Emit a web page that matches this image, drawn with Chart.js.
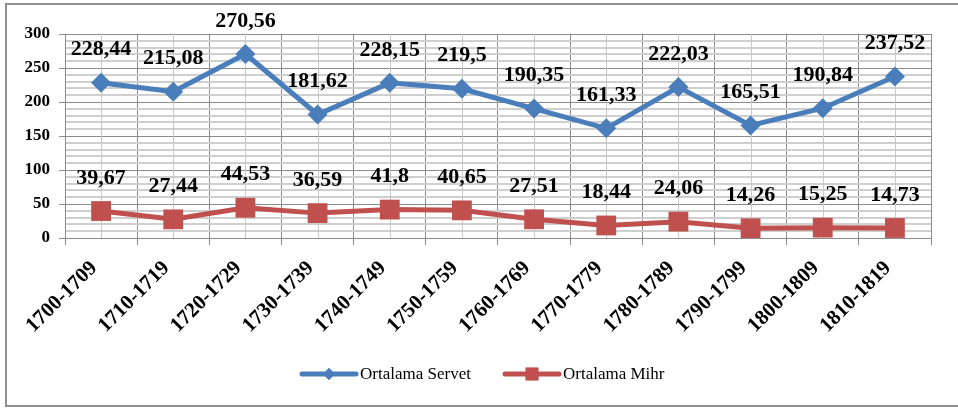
<!DOCTYPE html>
<html>
<head>
<meta charset="utf-8">
<script src="https://cdn.jsdelivr.net/npm/chart.js@4/dist/chart.umd.min.js"></script>
<style>
html,body{margin:0;padding:0;background:#fff;}
#c{display:block;}
</style>
</head>
<body>
<canvas id="c" width="958" height="408"></canvas>
<script>
const categories = ["1700-1709","1710-1719","1720-1729","1730-1739","1740-1749","1750-1759","1760-1769","1770-1779","1780-1789","1790-1799","1800-1809","1810-1819"];
const servet = [228.44, 215.08, 270.56, 181.62, 228.15, 219.5, 190.35, 161.33, 222.03, 165.51, 190.84, 237.52];
const mihr = [39.67, 27.44, 44.53, 36.59, 41.8, 40.65, 27.51, 18.44, 24.06, 14.26, 15.25, 14.73];
const seriesNames = ["Ortalama Servet", "Ortalama Mihr"];
const yMin = 0, yMax = 300, yMajor = 50, yMinor = 10;

const BLUE = '#4a7ebb';
const RED = '#c0504d';
const SERIF = "'Liberation Serif', Tinos, 'Times New Roman', 'DejaVu Serif', 'Noto Serif', serif";

const fmt = v => String(v).replace('.', ',');

const bgPlugin = {
  id: 'bg',
  beforeDraw(chart) {
    const ctx = chart.ctx;
    ctx.save();
    ctx.fillStyle = '#fff';
    ctx.fillRect(0, 0, chart.width, chart.height);
    ctx.restore();
  }
};

const minorXGrid = {
  id: 'minorXGrid',
  beforeDatasetsDraw(chart) {
    const ctx = chart.ctx, xs = chart.scales.x, a = chart.chartArea;
    ctx.save();
    ctx.strokeStyle = '#c8c8c8';
    ctx.lineWidth = 1;
    for (let i = 0; i < categories.length; i++) {
      const x = Math.round(xs.getPixelForValue(i)) + 0.5;
      ctx.beginPath();
      ctx.moveTo(x, a.top);
      ctx.lineTo(x, a.bottom);
      ctx.stroke();
    }
    ctx.restore();
  }
};

const labelsPlugin = {
  id: 'valLabels',
  afterDatasetsDraw(chart) {
    const ctx = chart.ctx;
    ctx.save();
    ctx.font = 'bold 22px ' + SERIF;
    ctx.fillStyle = '#000';
    ctx.textAlign = 'center';
    ctx.textBaseline = 'middle';
    chart.data.datasets.forEach((ds, di) => {
      const meta = chart.getDatasetMeta(di);
      meta.data.forEach((pt, i) => {
        ctx.fillText(fmt(ds.data[i]), pt.x, pt.y - 33);
      });
    });
    ctx.restore();
  }
};

const legendPlugin = {
  id: 'customLegend',
  afterDraw(chart) {
    const ctx = chart.ctx;
    ctx.save();
    const y = 374;
    const items = [
      {x: 302, color: BLUE, style: 'rectRot', r: 6, label: seriesNames[0]},
      {x: 505, color: RED, style: 'rect', r: 9, label: seriesNames[1]}
    ];
    ctx.font = '17px ' + SERIF;
    ctx.textBaseline = 'middle';
    ctx.textAlign = 'left';
    items.forEach(it => {
      ctx.strokeStyle = it.color;
      ctx.lineWidth = 5;
      ctx.lineCap = 'round';
      ctx.beginPath();
      ctx.moveTo(it.x, y);
      ctx.lineTo(it.x + 54, y);
      ctx.stroke();
      ctx.fillStyle = it.color;
      Chart.helpers.drawPoint(ctx, {pointStyle: it.style, radius: it.r, rotation: 0, borderWidth: 0}, it.x + 27, y);
      ctx.fill();
      ctx.fillStyle = '#000';
      ctx.fillText(it.label, it.x + 58, y + 1);
    });
    ctx.strokeStyle = '#8f8f8f';
    ctx.lineWidth = 2;
    ctx.lineCap = 'butt';
    ctx.beginPath();
    ctx.moveTo(960, 4);
    ctx.lineTo(6, 4);
    ctx.lineTo(6, 406);
    ctx.lineTo(960, 406);
    ctx.stroke();
    ctx.restore();
  }
};

new Chart(document.getElementById('c'), {
  type: 'line',
  data: {
    labels: categories,
    datasets: [
      {
        label: seriesNames[0],
        data: servet,
        borderColor: BLUE,
        backgroundColor: BLUE,
        borderWidth: 5,
        pointStyle: 'rectRot',
        pointRadius: 10,
        pointHoverRadius: 10,
        pointBorderWidth: 0,
        tension: 0
      },
      {
        label: seriesNames[1],
        data: mihr,
        borderColor: RED,
        backgroundColor: RED,
        borderWidth: 5,
        pointStyle: 'rect',
        pointRadius: 14,
        pointHoverRadius: 14,
        pointBorderWidth: 0,
        tension: 0
      }
    ]
  },
  options: {
    responsive: false,
    animation: false,
    events: [],
    layout: {padding: {top: 34, right: 27, left: 0, bottom: 0}},
    plugins: {legend: {display: false}, tooltip: {enabled: false}},
    scales: {
      x: {
        offset: true,
        afterFit(s) { s.height = 170; },
        grid: {offset: true, color: '#8c8c8c', lineWidth: 1, tickLength: 7, tickColor: '#8c8c8c', drawTicks: true},
        border: {color: '#8c8c8c', width: 1},
        ticks: {
          autoSkip: false, maxRotation: 45, minRotation: 45, color: '#000', padding: 11,
          labelOffset: -7,
          font: {family: SERIF, size: 21, weight: 'bold'}
        }
      },
      y: {
        min: yMin, max: yMax,
        afterFit(s) { s.width = 65; },
        afterBuildTicks(s) {
          const t = [];
          for (let v = yMin; v <= yMax; v += yMinor) t.push({value: v});
          s.ticks = t;
        },
        grid: {
          color: c => (c.tick && c.tick.value % yMajor === 0) ? '#8c8c8c' : '#cfcfcf',
          tickColor: c => (c.tick && c.tick.value % yMajor === 0) ? '#8c8c8c' : 'rgba(0,0,0,0)',
          lineWidth: c => (c.tick && c.tick.value % yMajor === 0) ? 1 : 2,
          tickLength: 6
        },
        border: {color: '#8c8c8c', width: 1},
        ticks: {
          autoSkip: false,
          color: '#000',
          padding: 9,
          font: {family: SERIF, size: 17, weight: 'bold'},
          callback: v => (v % yMajor === 0 ? String(v) : '')
        }
      }
    }
  },
  plugins: [bgPlugin, minorXGrid, labelsPlugin, legendPlugin]
});
</script>
</body>
</html>
